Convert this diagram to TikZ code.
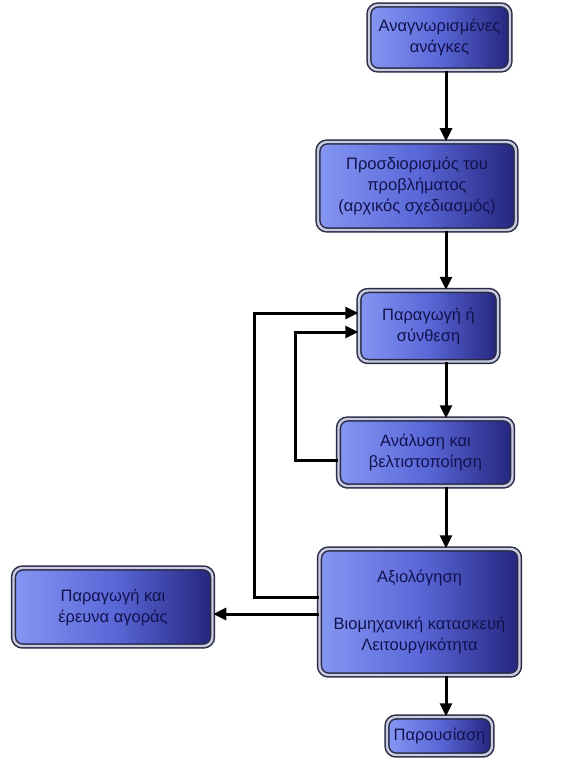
\documentclass[tikz,border=0pt]{standalone}
\usepackage{fontspec}
\setmainfont{Liberation Sans}
\usepackage{xcolor}
\usetikzlibrary{arrows.meta, positioning}
\definecolor{boxlight}{HTML}{8696F2}
\definecolor{boxmid}{HTML}{5A68D8}
\definecolor{boxdark}{HTML}{24257E}
\definecolor{boxedge}{HTML}{2A2A44}
\definecolor{boxgap}{HTML}{C8CCE0}
\definecolor{boxtext}{HTML}{12124E}

\begin{document}
\begin{tikzpicture}[x=1pt, y=-1pt,
            stagebox/.style={draw=boxedge,
            double=boxgap,
            double distance=2.4pt,
            line width=1.5pt,
            rounded corners=9pt,
            left color=boxlight,
            right color=boxdark,
            middle color=boxmid,
            text=boxtext,
            align=center,
            inner sep=2pt,
            font=\fontsize{16.5}{21}\selectfont},
            flow/.style={->, line width=3pt},
            >={Triangle[length=13pt, width=12pt]}]
            \useasboundingbox (0,0) rectangle (566,762);
            \node[stagebox, minimum width=141pt, minimum height=65pt] at (439.5,37.5) (needs) {Αναγνωρισμένες\\ανάγκες};
            \node[stagebox, minimum width=198pt, minimum height=88pt] at (417,186) (problem) {Προσδιορισμός του\\προβλήματος\\(αρχικός σχεδιασμός)};
            \node[stagebox, minimum width=139pt, minimum height=71pt] at (428.5,326) (synth) {Παραγωγή ή\\σύνθεση};
            \node[stagebox, minimum width=174pt, minimum height=67pt] at (425.5,452.5) (optim) {Ανάλυση και\\βελτιστοποίηση};
            \node[stagebox, minimum width=200pt, minimum height=126pt] at (419.5,612) (evalu) {Αξιολόγηση\\[26pt]Βιομηχανική κατασκευή\\Λειτουργικότητα};
            \node[stagebox, minimum width=105pt, minimum height=38pt] at (439.5,736) (present) {Παρουσίαση};
            \node[stagebox, minimum width=199pt, minimum height=78pt] at (113,607) (market) {Παραγωγή και\\έρευνα αγοράς};
            \coordinate (spine) at (446,0);
            % main column
            \draw[flow] (needs.south -| spine) -- (problem.north -| spine);
            \draw[flow] (problem.south -| spine) -- (synth.north -| spine);
            \draw[flow] (synth.south -| spine) -- (optim.north -| spine);
            \draw[flow] (optim.south -| spine) -- (evalu.north -| spine);
            \draw[flow] (evalu.south -| spine) -- (present.north -| spine);
            % feedback loops
            \draw[flow] ([yshift=15pt]evalu.west) -- ++(-64pt,0) |- ([yshift=13pt]synth.west);
            \draw[flow] ([yshift=-7.5pt]optim.west) -- ++(-42pt,0) |- ([yshift=-6pt]synth.west);
            \draw[flow] ([yshift=-2pt]evalu.west) -- ([yshift=-2pt]evalu.west -| market.east);
        \end{tikzpicture}
\end{document}
